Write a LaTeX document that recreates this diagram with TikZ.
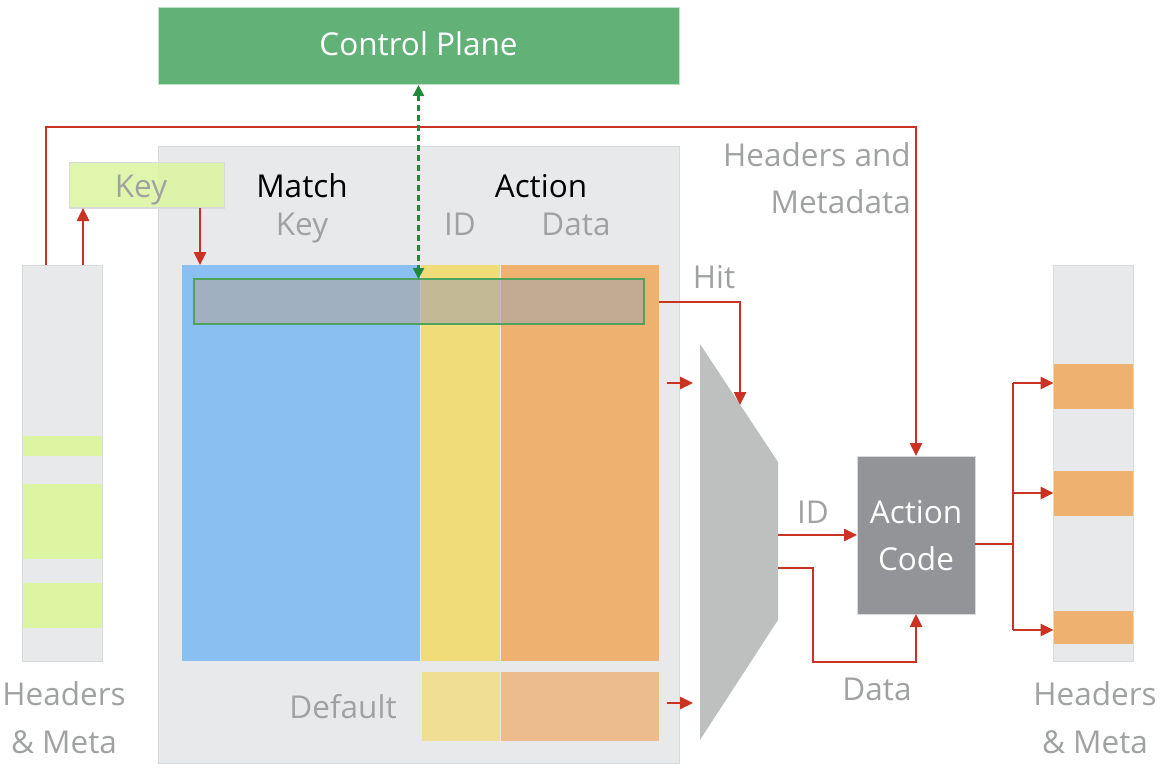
\documentclass[tikz,border=0pt]{standalone}
\usepackage{fontspec}
\setmainfont{Open Sans}
\usetikzlibrary{arrows.meta,calc}
\definecolor{redl}{HTML}{CB3224}
\definecolor{panel}{HTML}{E8E9EB}
\definecolor{panelb}{HTML}{D9DADC}
\definecolor{txtg}{HTML}{A0A2A2}
\definecolor{cpg}{HTML}{62B277}
\definecolor{dashg}{HTML}{1E8A3A}
\definecolor{keyg}{HTML}{DEF5A4}
\definecolor{stripg}{HTML}{DDF5A3}
\definecolor{blu}{HTML}{8ABFF2}
\definecolor{yel}{HTML}{F0DC78}
\definecolor{ora}{HTML}{EEB170}
\definecolor{lyel}{HTML}{F0DE93}
\definecolor{lora}{HTML}{ECBC8C}
\definecolor{muxg}{HTML}{BEC0C0}
\definecolor{actg}{HTML}{939498}
\definecolor{hlg}{HTML}{4FA35E}
\begin{document}
\begin{tikzpicture}[x=1pt,y=-1pt,
  box/.style={inner sep=0pt,outer sep=0pt,rectangle},
  lbl/.style={inner sep=0pt,anchor=base,font=\fontsize{31.5}{38}\selectfont,text=txtg},
  blk/.style={inner sep=0pt,anchor=base,font=\fontsize{31.5}{38}\selectfont,text=black},
  wht/.style={inner sep=0pt,anchor=base,font=\fontsize{31.5}{38}\selectfont,text=white},
  redarrow/.style={draw=redl,line width=2.5pt,-{Triangle[length=13pt,width=12pt]}},
  redline/.style={draw=redl,line width=2.5pt},
]
\useasboundingbox (0,0) rectangle (1160,773);
% control plane
\node[box,fill=cpg,draw=cpg!40!white,line width=1pt,minimum width=521pt,minimum height=77pt] (cp) at (418.5,46.5) {};
\node[wht] (cpt) at (418.5,56) {Control Plane};
% main panel
\node[box,fill=panel,draw=panelb,line width=1pt,minimum width=521pt,minimum height=616pt] (panel) at (418.5,455) {};
% left bar
\node[box,fill=panel,draw=panelb,line width=1pt,minimum width=80pt,minimum height=396pt] (lbar) at (62,463) {};
\fill[stripg] (22.5,436) rectangle (101.5,456);
\fill[stripg] (22.5,484) rectangle (101.5,559);
\fill[stripg] (22.5,583) rectangle (101.5,628);
% key box
\node[box,fill=keyg,fill opacity=0.9,draw=panelb,line width=1pt,minimum width=155pt,minimum height=45pt] (key) at (146.5,185.5) {};
\node[lbl] (keyt) at (141,197) {Key};
% table columns
\node[box,fill=blu,minimum width=238pt,minimum height=396pt] (blue) at (301,463) {};
\node[box,fill=yel,minimum width=79pt,minimum height=396pt] (yellow) at (460.5,463) {};
\node[box,fill=ora,minimum width=158pt,minimum height=396pt] (orange) at (580,463) {};
\node[box,fill=lyel,minimum width=78pt,minimum height=69pt] (dyel) at (461,706.5) {};
\node[box,fill=lora,minimum width=158pt,minimum height=69pt] (dora) at (580,706.5) {};
% highlighted row
\node[box,fill={rgb,255:red,172;green,168;blue,166},fill opacity=0.65,draw=hlg,line width=2pt,
  minimum width=450pt,minimum height=45pt] (hl) at (419,301.5) {};
% headings
\node[blk] (match) at (302,197) {Match};
\node[lbl] (mkey) at (302,235) {Key};
\node[blk] (action) at (541,197) {Action};
\node[lbl] (aid) at (460,235) {ID};
\node[lbl] (adata) at (576,235) {Data};
\node[lbl] (default) at (343,718) {Default};
% mux
\coordinate (m1) at (700,344);
\coordinate (m2) at (778,462);
\coordinate (m3) at (778,620);
\coordinate (m4) at (700,740);
\fill[muxg] (m1) -- (m2) -- (m3) -- (m4) -- cycle;
% action code
\node[box,fill=actg,draw=panelb,line width=1pt,minimum width=118pt,minimum height=158pt] (ac) at (916,535) {};
\node[wht] (act1) at (916,523) {Action};
\node[wht] (act2) at (916,570) {Code};
% right bar
\node[box,fill=panel,draw=panelb,line width=1pt,minimum width=80pt,minimum height=396pt] (rbar) at (1093,463) {};
\node[box,fill=ora,minimum width=79pt,minimum height=45pt] (s1) at (1093,386.5) {};
\node[box,fill=ora,minimum width=79pt,minimum height=45pt] (s2) at (1093,493.5) {};
\node[box,fill=ora,minimum width=79pt,minimum height=33pt] (s3) at (1093,627.5) {};
% labels
\node[lbl,anchor=base east] (hm1) at (911,167) {Headers and};
\node[lbl,anchor=base east] (hm2) at (911,213) {Metadata};
\node[lbl] (hit) at (714,288) {Hit};
\node[lbl] (idl) at (813,523) {ID};
\node[lbl] (datal) at (877,700) {Data};
\node[lbl] (lh1) at (64,705) {Headers};
\node[lbl] (lh2) at (64,753) {\& Meta};
\node[lbl] (rh1) at (1095,705) {Headers};
\node[lbl] (rh2) at (1095,753) {\& Meta};
% connectors
\coordinate (l0) at (46,265);
\draw[redarrow] (l0) -- (46,127) -- (ac.north |- 0,127) -- (ac.north);
\coordinate (l1) at (83,265);
\draw[redarrow] (l1) -- (l1 |- key.south);
\coordinate (k1) at (200,208);
\draw[redarrow] (k1) -- (k1 |- blue.north);
\draw[draw=dashg,line width=2.4pt,dash pattern=on 6pt off 4pt,
  {Triangle[length=11pt,width=11pt]}-{Triangle[length=11pt,width=11pt]}] (cp.south) -- (cp.south |- hl.north);
\coordinate (h0) at (659,302);
\coordinate (h1) at (740,405);
\draw[redarrow] (h0) -| (h1);
\coordinate (a1) at (667,383);
\coordinate (a1e) at (693,383);
\draw[redarrow] (a1) -- (a1e);
\coordinate (a2) at (667,703);
\coordinate (a2e) at (693,703);
\draw[redarrow] (a2) -- (a2e);
\coordinate (id0) at (778,535);
\draw[redarrow] (id0) -- (ac.west);
\coordinate (d0) at (778,568);
\draw[redarrow] (d0) -- (813,568) -- (813,662) -- (ac.south |- 0,662) -- (ac.south);
\coordinate (o0) at (975,544);
\coordinate (o1) at (1013,544);
\draw[redline] (o0) -- (o1);
\draw[redline] (1013,383) -- (1013,630);
\draw[redarrow] (1013,383) -- (s1.west |- 0,383);
\draw[redarrow] (1013,493) -- (s2.west |- 0,493);
\draw[redarrow] (1013,630) -- (s3.west |- 0,630);
\end{tikzpicture}
\end{document}
